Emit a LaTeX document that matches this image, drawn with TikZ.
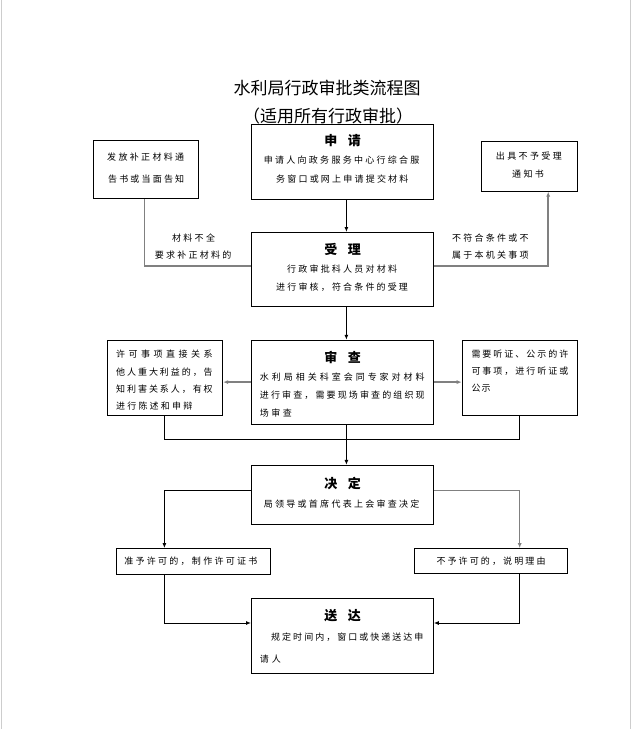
\documentclass[tikz,border=0pt]{standalone}
\usepackage{fontspec}
\setmainfont{Noto Sans CJK SC}
\usetikzlibrary{arrows.meta}
\makeatletter
\def\spx#1#2{#1\ifx\relax#2\else\hfil\expandafter\spx@n\fi#2}
\def\spx@n{\spx}
\makeatother
\newcommand\jl[2]{\hbox to #1pt{\spx#2\relax}}
\definecolor{lgray}{RGB}{128,128,128}
\definecolor{pedge}{RGB}{205,205,205}
\begin{document}
\begin{tikzpicture}[x=1pt,y=-1pt,
  box/.style 2 args={draw=black,line width=1pt,minimum width=#1pt,minimum height=#2pt,inner sep=0pt},
  txt/.style={inner sep=0pt,anchor=west,font=\fontsize{9}{9}\selectfont},
  hd/.style={inner sep=0pt,font=\bfseries\fontsize{13}{13}\selectfont},
  ttl/.style={inner sep=0pt,font=\fontsize{17}{17}\selectfont},
  line/.style={draw=black,line width=1pt},
  arr/.style={line,-{Latex[length=5pt,width=4pt]}},
  gline/.style={draw=lgray,line width=1.5pt},
  garr/.style={gline,-{Latex[length=5pt,width=4pt]}}]
\fill[white] (0,0) rectangle (638,729);
\useasboundingbox (0,0) rectangle (638,729);
\draw[pedge,line width=0.8pt] (1,0) -- (1,729);
\draw[pedge,line width=0.8pt] (630.5,0) -- (630.5,729);

% title
\node[ttl] (t1) at (327,88.3) {水利局行政审批类流程图};
\node[ttl] (t2) at (328,116.2) {（适用所有行政审批）};

% boxes
\node[box={181.8}{74.4}] (sq) at (342.4,161.8) {};
\node[box={105}{58.1}] (bz) at (146,169.45) {};
\node[box={96.1}{49.8}] (bs) at (529.35,166.2) {};
\node[box={181.8}{74.3}] (sl) at (342.4,269.65) {};
\node[box={181.8}{83.7}] (sc) at (342.4,382.15) {};
\node[box={115.2}{74.9}] (gz) at (165,377.75) {};
\node[box={115.2}{74.9}] (tz) at (519.8,377.75) {};
\node[box={181.8}{58.6}] (jd) at (342.4,494.7) {};
\node[box={154.2}{25.6}] (zy) at (193.5,561.4) {};
\node[box={153}{24.6}] (by) at (490.7,560.9) {};
\node[box={181.8}{74.9}] (sd) at (342.4,635.75) {};

% texts
\node[hd] (sqh) at (342.7,140.9) {\jl{36.6}{申请}};
\node[txt] (sq1) at (263.7,160) {\jl{155.5}{申请人向政务服务中心行综合服}};
\node[txt] (sq2) at (276,179) {\jl{132.2}{务窗口或网上申请提交材料}};

\node[txt] (bz1) at (107,157.1) {\jl{77}{发放补正材料通}};
\node[txt] (bz2) at (107.9,179) {\jl{76.1}{告书或当面告知}};

\node[txt] (bs1) at (495.7,156.2) {\jl{66}{出具不予受理}};
\node[txt] (bs2) at (512,174.3) {\jl{31.7}{通知书}};

\node[hd] (slh) at (342.7,249.2) {\jl{36.6}{受理}};
\node[txt] (sl1) at (287,268.7) {\jl{109.8}{行政审批科人员对材料}};
\node[txt] (sl2) at (276,287.3) {\jl{131.8}{进行审核，符合条件的受理}};

\node[txt] (la1) at (171.8,238.5) {\jl{43.1}{材料不全}};
\node[txt] (la2) at (154.7,254.8) {\jl{76.5}{要求补正材料的}};
\node[txt] (lb1) at (451.8,238.5) {\jl{76.5}{不符合条件或不}};
\node[txt] (lb2) at (451.8,254.8) {\jl{76.5}{属于本机关事项}};

\node[txt] (gz1) at (116,354.3) {\jl{96.5}{许可事项直接关系}};
\node[txt] (gz2) at (116,371.9) {\jl{96.5}{他人重大利益的，告}};
\node[txt] (gz3) at (116,389.1) {\jl{96.5}{知利害关系人，有权}};
\node[txt] (gz4) at (116,405.9) {\jl{76.1}{进行陈述和申辩}};

\node[hd] (sch) at (342.7,357) {\jl{36.6}{审查}};
\node[txt] (sc1) at (259.7,377) {\jl{164.8}{水利局相关科室会同专家对材料}};
\node[txt] (sc2) at (259.7,395.2) {\jl{164.8}{进行审查，需要现场审查的组织现}};
\node[txt] (sc3) at (259.7,412.8) {\jl{32.1}{场审查}};

\node[txt] (tz1) at (471.3,354.3) {\jl{96.9}{需要听证、公示的许}};
\node[txt] (tz2) at (471.3,371.2) {\jl{96.9}{可事项，进行听证或}};
\node[txt] (tz3) at (471.3,388.2) {\jl{19.1}{公示}};

\node[hd] (jdh) at (342.7,483.5) {\jl{36.6}{决定}};
\node[txt] (jd1) at (263.7,504.4) {\jl{155.5}{局领导或首席代表上会审查决定}};

\node[txt] (zy1) at (124.1,561.1) {\jl{133.1}{准予许可的，制作许可证书}};
\node[txt] (by1) at (436.3,561.1) {\jl{109.1}{不予许可的，说明理由}};

\node[hd] (sdh) at (342.7,616) {\jl{36.6}{送达}};
\node[txt] (sd1) at (271,637) {\jl{152.3}{规定时间内，窗口或快递送达申}};
\node[txt] (sd2) at (259.7,659.2) {\jl{21.1}{请人}};

% connector coordinates
\coordinate (cM) at (346.4,0);
\coordinate (cL) at (144.6,266);
\coordinate (cR) at (548.2,266);
\coordinate (cA) at (164.4,382.1);
\coordinate (cB) at (164.4,439.8);
\coordinate (cC) at (519.7,439.8);
\coordinate (cD) at (164.4,490.5);
\coordinate (cE) at (519.7,490.5);
\coordinate (cF) at (164.4,623);
\coordinate (cG) at (519.7,623);

% connectors
\draw[arr] (sq.south -| cM) -- (sl.north -| cM);
\draw[gline] (bz.south -| cL) -- (cL) -- (sl.west |- cL);
\draw[garr] (sl.east |- cR) -- (cR) -- (bs.south -| cR);
\draw[arr] (sl.south -| cM) -- (sc.north -| cM);
\draw[garr] (sc.west |- cA) -- (gz.east |- cA);
\draw[garr] (sc.east |- cA) -- (tz.west |- cA);
\draw[line] (gz.south -| cB) -- (cB) -- (cC) -- (tz.south -| cC);
\draw[arr] (sc.south -| cM) -- (jd.north -| cM);
\draw[arr] (jd.west |- cD) -- (cD) -- (zy.north -| cD);
\draw[garr] (jd.east |- cE) -- (cE) -- (by.north -| cE);
\draw[arr] (zy.south -| cF) -- (cF) -- (sd.west |- cF);
\draw[arr] (by.south -| cG) -- (cG) -- (sd.east |- cG);
\end{tikzpicture}
\end{document}
